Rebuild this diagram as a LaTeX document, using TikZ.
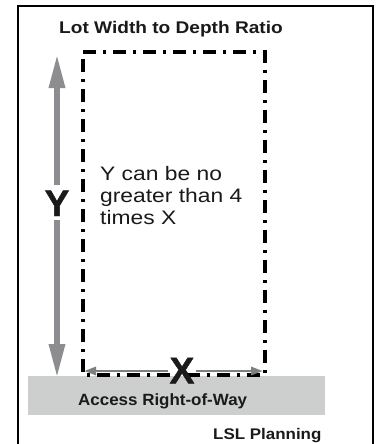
\documentclass[tikz,border=0pt]{standalone}
\usepackage{fontspec}
\usetikzlibrary{arrows.meta}
\newfontfamily\titlefont{Liberation Sans}[FakeStretch=1.13]
\newfontfamily\bodyfont{Liberation Sans}[FakeStretch=1.17]
\newfontfamily\bandfont{Liberation Sans}[FakeStretch=1.04]
\newfontfamily\creditfont{Liberation Sans}[FakeStretch=1.1]
\newfontfamily\bigfont{Liberation Sans Bold}[FakeBold=1.2]
\definecolor{ink}{RGB}{26,26,26}
\definecolor{arrowgray}{RGB}{140,140,145}
\definecolor{bandgray}{RGB}{205,206,206}
\tikzset{
  lbl/.style={inner sep=0pt, text=ink},
  varrow/.style={arrowgray, line width=6pt, -{Triangle[length=34pt,width=15pt]}},
  harrow/.style={arrowgray!90!black, line width=2.8pt, -{Triangle[length=12pt,width=8pt]}},
  lotline/.style={black, line width=3.4pt, dash pattern=on 13pt off 7pt on 3pt off 7pt},
  frame/.style={black, line width=2.4pt}
}
\begin{document}
\begin{tikzpicture}[x=1pt,y=-1pt]
\useasboundingbox (0,0) rectangle (376,444);
\fill[white] (0,0) rectangle (376,444);
% outer frame
\draw[frame] (18,446) -- (18,6) -- (373,6) -- (373,446);
% title
\node[lbl, anchor=base, font=\titlefont\bfseries\fontsize{16.9}{20}\selectfont] (title) at (171,34) {Lot Width to Depth Ratio};
% access band
\fill[bandgray] (28,376) rectangle (325,415);
\node[lbl, anchor=base west, font=\bandfont\bfseries\fontsize{16.3}{20}\selectfont] (band) at (78,405) {Access Right-of-Way};
% lot outline
\draw[lotline] (83,52) -- (265,52) -- (265,375) -- (83,375) -- cycle;
% text
\node[lbl, anchor=north west, align=left, font=\bodyfont\fontsize{19.5}{22}\selectfont] (rule) at (100,166.3)
  {Y can be no\\greater than 4\\times X};
% Y dimension
\coordinate (ytop) at (57,54);
\coordinate (ybot) at (57,378);
\node[lbl, anchor=base, font=\bigfont\fontsize{37}{40}\selectfont] (Y) at (57,216) {Y};
\draw[varrow, shorten <=5pt] (Y.north) -- (ytop);
\draw[varrow, shorten <=4pt] (Y.south) -- (ybot);
% X dimension
\coordinate (xl) at (84,371);
\coordinate (xr) at (263,371);
\node[lbl, anchor=base, font=\bigfont\fontsize{37}{40}\selectfont] (X) at (182,383.3) {X};
\draw[harrow, shorten <=1pt] (X.west |- xl) -- (xl);
\draw[harrow, shorten <=1pt] (X.east |- xr) -- (xr);
% credit
\node[lbl, anchor=base west, font=\creditfont\bfseries\fontsize{15.4}{18}\selectfont] (credit) at (213,439) {LSL Planning};
\end{tikzpicture}
\end{document}
